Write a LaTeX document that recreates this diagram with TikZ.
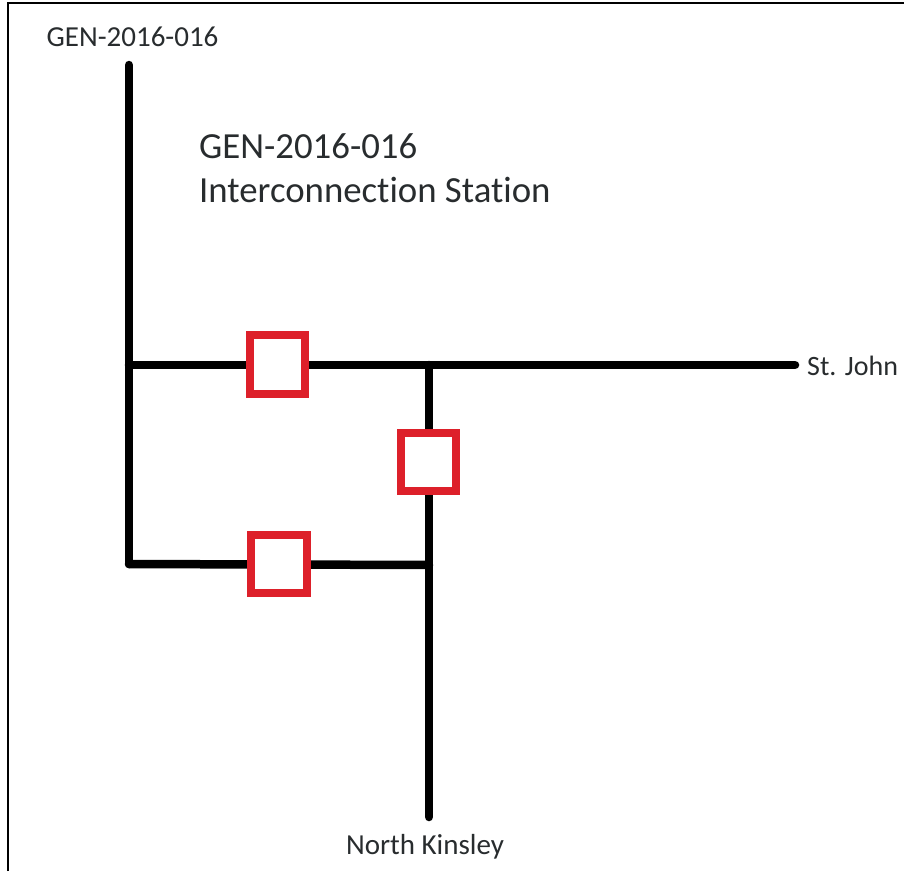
\documentclass[tikz,border=0pt]{standalone}
\usepackage{fontspec}
\setmainfont{Carlito}[Ligatures=NoCommon]
\usetikzlibrary{positioning}
\definecolor{breakerred}{RGB}{221,32,42}
\definecolor{labelgrey}{RGB}{40,44,46}
\tikzset{
  breaker/.style={draw=breakerred,line width=8pt,fill=white,minimum width=55.5pt,minimum height=58.5pt,inner sep=0pt},
  busline/.style={line width=8.5pt,line cap=round},
  buslabel/.style={font=\fontsize{29}{30}\selectfont,text=labelgrey,inner sep=0pt},
  titlelabel/.style={font=\fontsize{36.8}{44}\selectfont,text=labelgrey,inner sep=0pt,align=left}
}
\begin{document}
\begin{tikzpicture}[x=1pt,y=-1pt]
\useasboundingbox (0,0) rectangle (904,871);
\draw[line width=2.5pt] (8,871) -- (8,3) -- (904,3);
\coordinate (top) at (129,65);
\coordinate (tee1) at (129,365);
\coordinate (tee2) at (129,564);
\coordinate (joint1) at (429,365);
\coordinate (joint2) at (429,565);
\coordinate (east) at (795,365);
\coordinate (south) at (429,817);
\node[buslabel] (gen) at (132.5,37) {GEN-2016-016};
\node[titlelabel,anchor=west] (title) at (199,168) {GEN-2016-016\\Interconnection Station};
\node[buslabel,anchor=west,font=\fontsize{28}{30}\selectfont] (stjohn) at (807,366) {St. John};
\node[buslabel] (kinsley) at (425,847) {North Kinsley};
\draw[busline] (top) -- (tee2);
\draw[busline] (tee1) -- (east);
\draw[busline] (joint1) -- (south);
\draw[busline] (tee2) -- (joint2);
\node[breaker] (cb1) at (277.7,364.5) {};
\node[breaker] (cb2) at (428.7,462) {};
\node[breaker] (cb3) at (279,564) {};
\end{tikzpicture}
\end{document}
